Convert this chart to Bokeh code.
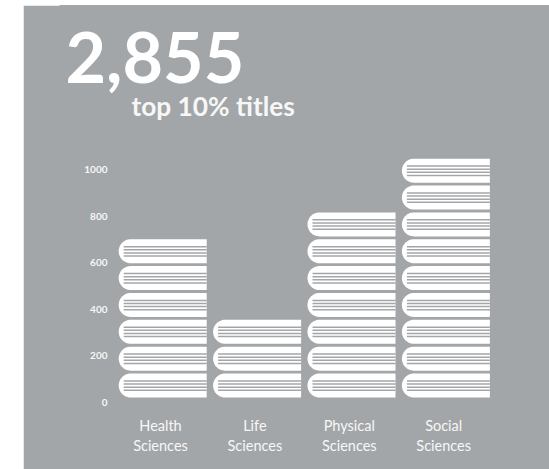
from bokeh.plotting import figure
from bokeh.models import Range1d, FixedTicker, Label
from bokeh.embed import file_html
from bokeh.resources import INLINE
import numpy as np

categories = ["Health\nSciences", "Life\nSciences", "Physical\nSciences", "Social\nSciences"]
values = [690, 340, 800, 1025]
y_ticks = [0, 200, 400, 600, 800, 1000]
headline = "2,855"
subhead = "top 10% titles"

BG = "#a3a6a8"
WHITE = "#ffffff"
TEXT = "#f7f7f7"
UNITS_PER_BOOK = 115.5

# position of the canvas in the picture
PAGE_X0, PAGE_Y0 = 23, 5
W, H = 526, 464
PX_PER_X = 94.4
PX_PER_Y = 0.2325
FRAME_LEFT_PAGE = 60
FRAME_BOTTOM_PAGE = 408
BASE_PAGE = 397
TICK_BASE_PAGE = 401.5
LEFT_PAD = FRAME_LEFT_PAGE - PAGE_X0
BOTTOM_PAD = PAGE_Y0 + H - FRAME_BOTTOM_PAGE


def xd(px):
    return (px - 160) / PX_PER_X


def yd(py):
    return (BASE_PAGE - py) / PX_PER_Y


def yt(py):
    return (TICK_BASE_PAGE - py) / PX_PER_Y


p = figure(width=W, height=H, output_backend="svg", toolbar_location=None,
           x_range=Range1d(xd(FRAME_LEFT_PAGE), xd(PAGE_X0 + W)),
           y_range=Range1d(yd(FRAME_BOTTOM_PAGE), yd(PAGE_Y0)),
           min_border_left=LEFT_PAD, min_border_right=0, min_border_top=0,
           min_border_bottom=BOTTOM_PAD,
           background_fill_color=BG, border_fill_color=BG,
           outline_line_color=BG, outline_line_width=2)
p.margin = (PAGE_Y0, -8, -8, PAGE_X0)
p.grid.visible = False
p.extra_y_ranges = {"ticks": Range1d(yt(FRAME_BOTTOM_PAGE), yt(PAGE_Y0))}

ax = p.xaxis[0]
ax.ticker = FixedTicker(ticks=list(range(len(categories))))
ax.major_label_overrides = {i: c for i, c in enumerate(categories)}
ax.major_label_text_color = TEXT
ax.major_label_text_font = "Lato"
ax.major_label_text_font_size = "14.5px"
ax.major_label_standoff = 2
ax.axis_line_color = None
ax.major_tick_line_color = None
ax.minor_tick_line_color = None

ay = p.yaxis[0]
ay.y_range_name = "ticks"
ay.ticker = FixedTicker(ticks=y_ticks)
ay.fixed_location = xd(117)
ay.major_label_text_color = TEXT
ay.major_label_text_font = "Lato"
ay.major_label_text_font_style = "bold"
ay.major_label_text_font_size = "10px"
ay.major_label_standoff = 4
ay.axis_line_color = None
ay.major_tick_line_color = None
ay.minor_tick_line_color = None

# pictogram stacks: the number of books follows each category's value
BOOK_W = 88.0 / PX_PER_X
BOOK_H = 24.0 / PX_PER_Y
BAR_SHIFT = 2.2 / PX_PER_X
R_X = 12.0 / PX_PER_X
INNER_X = 5.0 / PX_PER_X
theta = np.linspace(np.pi / 2, 3 * np.pi / 2, 30)
line_fracs = [0.30, 0.43, 0.56, 0.69]

bx, by, lx, ly = [], [], [], []
for i, v in enumerate(values):
    left = i + BAR_SHIFT - BOOK_W / 2
    right = left + BOOK_W
    for n in range(int(round(v / UNITS_PER_BOOK))):
        bottom = n * UNITS_PER_BOOK
        cy = bottom + BOOK_H / 2
        bx.append(list(left + R_X + R_X * np.cos(theta)) + [right, right])
        by.append(list(cy + BOOK_H / 2 * np.sin(theta)) + [bottom, bottom + BOOK_H])
        for f in line_fracs:
            lx.append([left + INNER_X, right])
            ly.append([bottom + f * BOOK_H] * 2)

p.patches(bx, by, fill_color=WHITE, line_color=None)
p.multi_line(lx, ly, line_color=BG, line_width=1.5)

p.add_layout(Label(x=xd(65), y=yd(57), text=headline,
                   text_font="Lato", text_font_style="bold", text_font_size="70px",
                   text_color=WHITE, text_baseline="alphabetic"))
p.add_layout(Label(x=xd(131), y=yd(105), text=subhead,
                   text_font="Lato", text_font_style="bold", text_font_size="26.3px",
                   text_color=TEXT, text_baseline="alphabetic"))

open("out.html", "w").write(file_html(p, INLINE))
